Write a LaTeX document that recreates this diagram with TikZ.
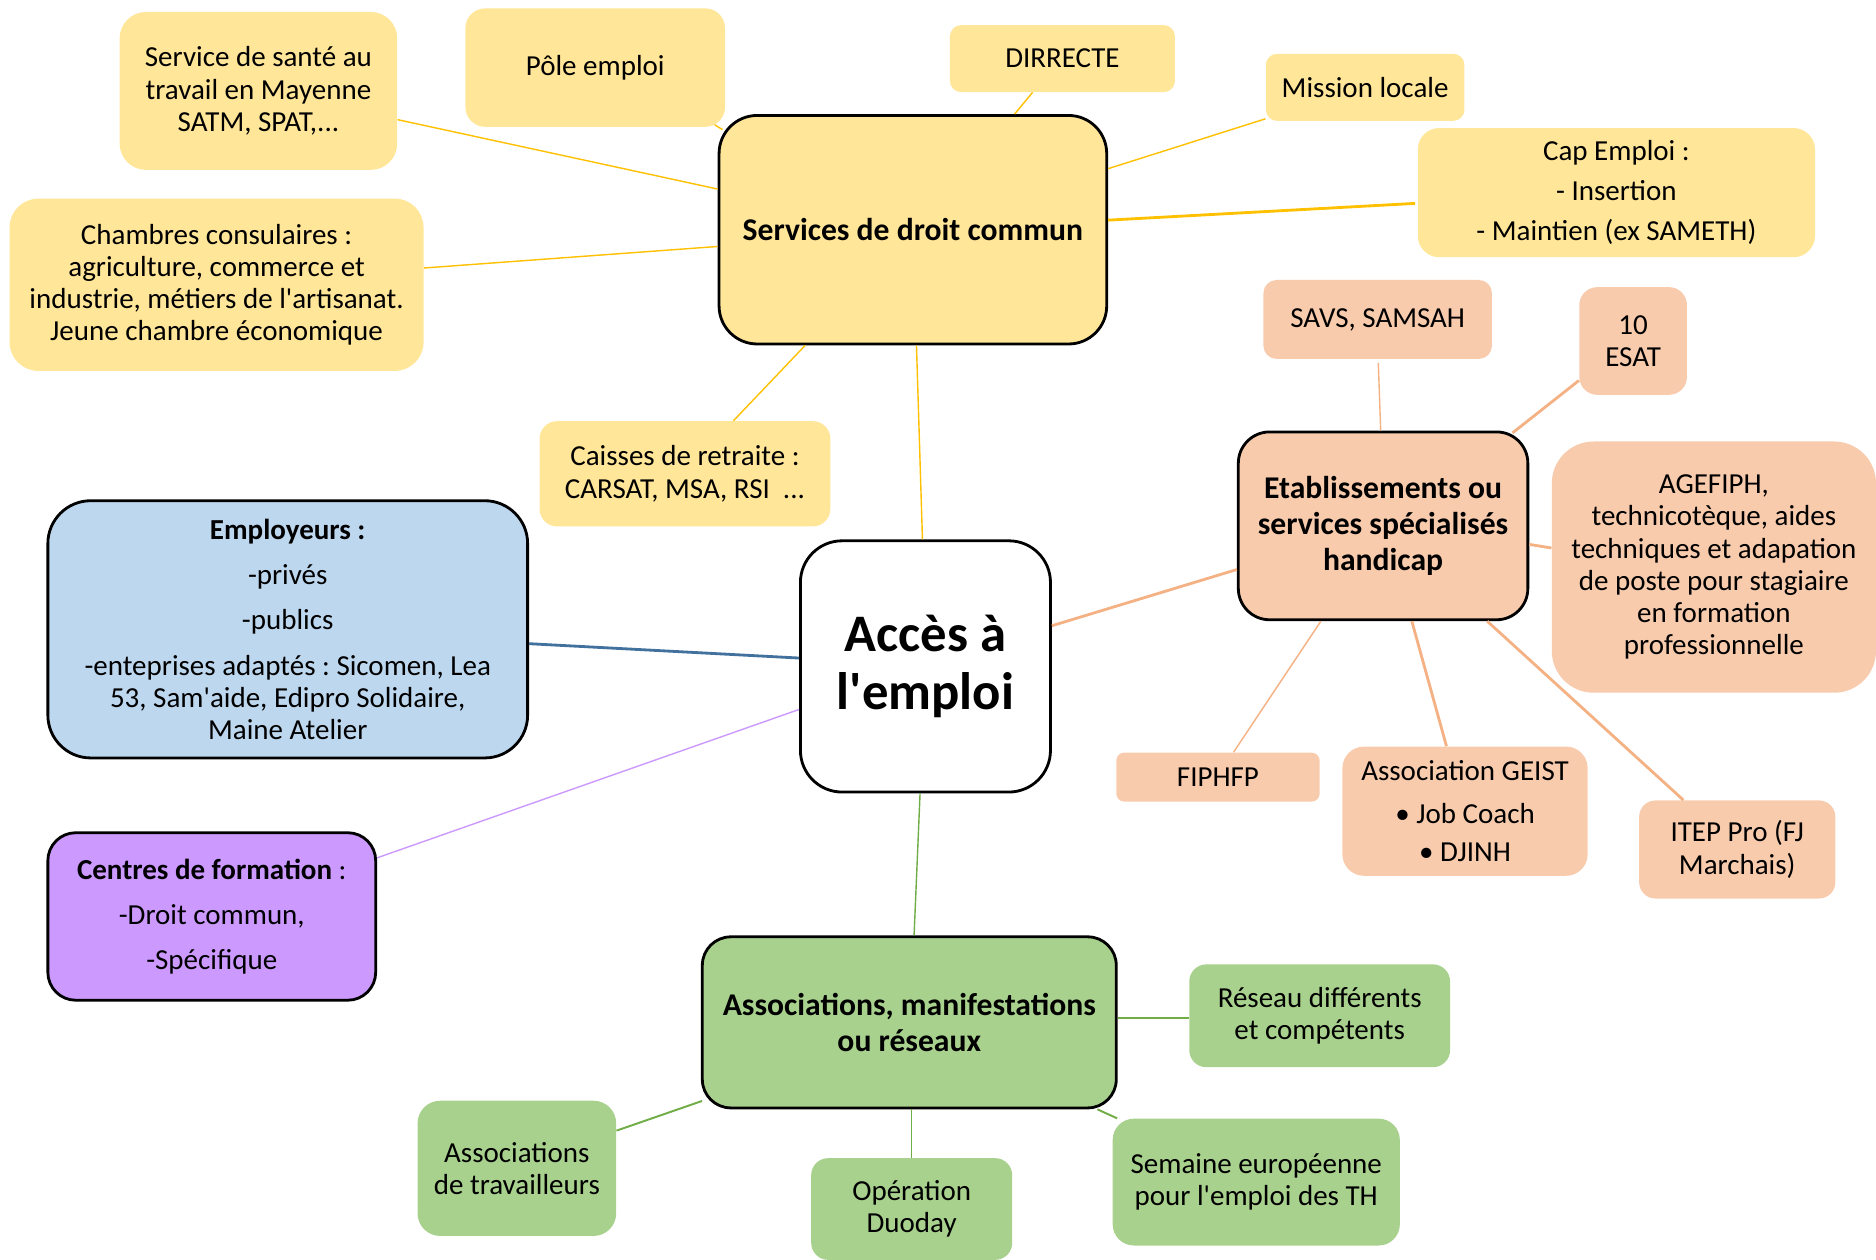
\documentclass[tikz,border=0pt]{standalone}
\usepackage{fontspec}
\setmainfont{Carlito}
\usetikzlibrary{calc}
\frenchspacing

\definecolor{goldfill}{HTML}{FFE699}
\definecolor{goldline}{HTML}{FFC000}
\definecolor{peachfill}{HTML}{F8CBAD}
\definecolor{peachline}{HTML}{F4B183}
\definecolor{bluefill}{HTML}{BDD7EE}
\definecolor{blueline}{HTML}{41719C}
\definecolor{lilac}{HTML}{CC99FF}
\definecolor{greenfill}{HTML}{A9D18E}
\definecolor{greenline}{HTML}{70AD47}

\newcommand{\pxu}{0.02393cm}
\newcommand{\aps}{\textquotesingle}

\begin{document}
\begin{tikzpicture}[x=0.02393cm, y=-0.02393cm,
    box/.style 2 args={inner sep=0pt, align=center, minimum width=#1*\pxu, minimum height=#2*\pxu,
        rounded corners={min(#1,#2)/6*\pxu}, font=\fontsize{16.5}{18.3}\selectfont},
    hub/.style={draw=black, line width=1.6pt, font=\bfseries\fontsize{18}{20.4}\selectfont},
    wire/.style={line width=0.8pt},
    midwire/.style={line width=1.1pt},
    widewire/.style={line width=1.6pt}]
    \useasboundingbox (0,0) rectangle (1568,1052.3);

    \node[box={209}{210}, hub, fill=white, font=\bfseries\fontsize{30}{32.6}\selectfont] (acces) at (773.5,557) {Accès à\\l\aps emploi};

    \node[box={324}{191}, hub, fill=goldfill] (sdc) at (763,192) {Services de droit commun};
    \node[box={232}{132}, fill=goldfill] (sante) at (216,76) {Service de santé au\\travail en Mayenne\\SATM, SPAT,...};
    \node[box={217}{99}, fill=goldfill] (pole) at (497.5,56.5) {Pôle emploi};
    \node[box={188}{56}, fill=goldfill] (dirr) at (888,49) {DIRRECTE};
    \node[box={166}{56}, fill=goldfill] (mission) at (1141,73) {Mission locale};
    \node[box={332}{108}, fill=goldfill] (cap) at (1351,161) {Cap Emploi :\\[4.4pt]- Insertion\\[4.4pt]- Maintien (ex SAMETH)};
    \node[box={346}{144}, fill=goldfill] (chambres) at (181,238) {Chambres consulaires :\\agriculture, commerce et\\industrie, métiers de l\aps artisanat.\\Jeune chambre économique};
    \node[box={243}{88}, fill=goldfill] (caisses) at (572.5,396) {Caisses de retraite :\\CARSAT, MSA, RSI\ \ ...};

    \node[box={242}{157}, hub, fill=peachfill] (etab) at (1156,439.5) {Etablissements ou\\services spécialisés\\handicap};
    \node[box={191}{66}, fill=peachfill] (savs) at (1151.5,267) {SAVS, SAMSAH};
    \node[box={90}{90}, fill=peachfill] (esat) at (1365,285) {10\\ESAT};
    \node[box={271}{210}, fill=peachfill] (agefiph) at (1432.5,474) {AGEFIPH,\\technicotèque, aides\\techniques et adapation\\de poste pour stagiaire\\en formation\\professionnelle};
    \node[box={170}{41}, fill=peachfill] (fiphfp) at (1018,649.5) {FIPHFP};
    \node[box={205}{108}, fill=peachfill] (geist) at (1224.5,678) {Association GEIST\\[6.1pt]• Job Coach\\[3.4pt]• DJINH};
    \node[box={164}{82}, fill=peachfill] (itep) at (1452,710) {ITEP Pro (FJ\\Marchais)};

    \node[box={401}{215}, hub, fill=bluefill, font=\fontsize{16.5}{18.3}\selectfont] (employeurs) at (240.5,526) {\textbf{Employeurs :}\\[7.5pt]-privés\\[7.5pt]-publics\\[7.5pt]-enteprises adaptés : Sicomen, Lea\\53, Sam\aps aide, Edipro Solidaire,\\Maine Atelier};
    \node[box={274}{140}, hub, fill=lilac, font=\fontsize{16.5}{18.3}\selectfont] (centres) at (177,766) {\textbf{Centres de formation} :\\[7.2pt]-Droit commun,\\[7.2pt]-Spécifique};

    \node[box={346}{143}, hub, fill=greenfill] (assoc) at (760,854.5) {Associations, manifestations\\ou réseaux};
    \node[box={218}{86}, fill=greenfill] (reseau) at (1103,849) {Réseau différents\\et compétents};
    \node[box={166}{113}, fill=greenfill] (travailleurs) at (432,976.5) {Associations\\de travailleurs};
    \node[box={168}{85}, fill=greenfill] (duoday) at (762,1010.5) {Opération\\Duoday};
    \node[box={240}{106}, fill=greenfill] (semaine) at (1050,988) {Semaine européenne\\pour l\aps emploi des TH};

    \draw[goldline, wire] ($(sante.east)+(0,24)$) -- ($(sdc.west)+(0,-34)$);
    \draw[goldline, wire] ($(pole.south east)+(-9,-2)$) -- ($(sdc.north west)+(4,13)$);
    \draw[goldline, wire] ($(dirr.south)+(-25,0)$) -- ($(sdc.north)+(85,0)$);
    \draw[goldline, wire] ($(mission.south west)+(0,-2)$) -- ($(sdc.east)+(0,-51)$);
    \draw[goldline, widewire] ($(cap.west)+(-2,9)$) -- ($(sdc.east)+(0,-8)$);
    \draw[goldline, wire] ($(chambres.east)+(0,-14)$) -- ($(sdc.west)+(0,14)$);
    \draw[goldline, wire] ($(caisses.north)+(40.5,0)$) -- ($(sdc.south)+(-90,0)$);
    \draw[goldline, wire] ($(sdc.south)+(3,0)$) -- ($(acces.north)+(-2.5,0)$);

    \draw[blueline, widewire] ($(employeurs.east)+(0,12)$) -- ($(acces.west)+(0,-7)$);
    \draw[lilac, wire] ($(centres.east)+(0,-49)$) -- ($(acces.west)+(0,36)$);
    \draw[greenline, wire] ($(acces.south)+(-4.5,0)$) -- ($(assoc.north)+(4,0)$);
    \draw[peachline, widewire] ($(acces.east)+(0,-34)$) -- ($(etab.west)+(0,36.5)$);

    \draw[peachline, wire] ($(etab.north)+(-2,0)$) -- ($(savs.south)+(0.5,3)$);
    \draw[peachline, widewire] ($(etab.north east)+(-14,2)$) -- ($(esat.west)+(0,33)$);
    \draw[peachline, widewire] ($(etab.east)+(0,15.5)$) -- ($(agefiph.west)+(0,-16)$);
    \draw[peachline, wire] ($(etab.south)+(-52,0)$) -- ($(fiphfp.north)+(13,0)$);
    \draw[peachline, widewire] ($(etab.south)+(24,0)$) -- ($(geist.north)+(-15.5,0)$);
    \draw[peachline, widewire] ($(etab.south)+(87,0)$) -- ($(itep.north)+(-45,0)$);

    \draw[greenline, midwire] ($(assoc.east)+(0,-3.5)$) -- ($(reseau.west)+(0,2)$);
    \draw[greenline, midwire] ($(assoc.south west)+(1,-7)$) -- ($(travailleurs.east)+(0,-31.5)$);
    \draw[greenline, wire] ($(assoc.south)+(2,0)$) -- (duoday.north);
    \draw[greenline, midwire] ($(assoc.south east)+(-17,0)$) -- ($(semaine.north west)+(4,0)$);
\end{tikzpicture}
\end{document}
